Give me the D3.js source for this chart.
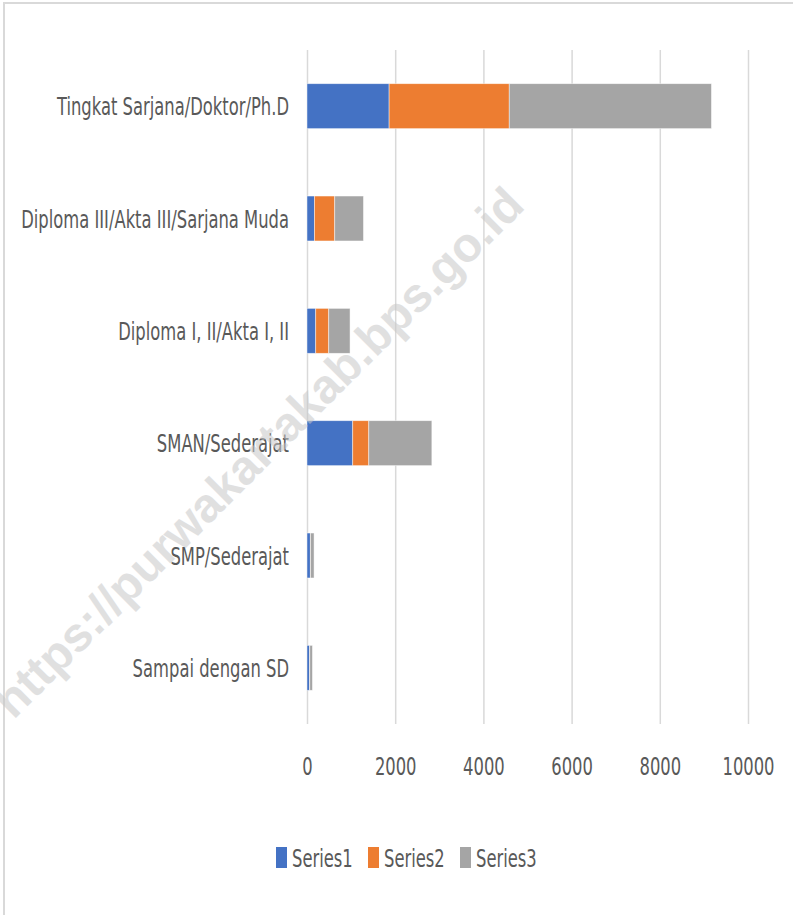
<!DOCTYPE html>
<html>
<head>
<meta charset="utf-8">
<script src="https://cdn.jsdelivr.net/npm/d3@7"></script>
<style>
  body { margin: 0; background: #fff; }
  svg text { font-family: "Liberation Sans Narrow", "DejaVu Sans Condensed", "Open Sans", sans-serif; fill: #595959; }
</style>
</head>
<body>
<div id="chart"></div>
<script>
// chart data
const categories = [
    "Tingkat Sarjana/Doktor/Ph.D",
    "Diploma III/Akta III/Sarjana Muda",
    "Diploma I, II/Akta I, II",
    "SMAN/Sederajat",
    "SMP/Sederajat",
    "Sampai dengan SD"
];
const seriesNames = ["Series1", "Series2", "Series3"];
const series1 = [1862, 168, 198, 1037, 75, 60];
const series2 = [2724, 461, 295, 364, 5, 3];
const series3 = [4585, 651, 483, 1430, 80, 60];
const xTicks = [0, 2000, 4000, 6000, 8000, 10000];
const colors = ["#4472C4", "#ED7D31", "#A5A5A5"];

function drawChart() {
    const svgWidth = 793, svgHeight = 915;
    const margin = { top: 50, right: 45, bottom: 191, left: 307 };
    const height = svgHeight - margin.top - margin.bottom;
    const fontSize = "25px";

    const svg = d3.select("#chart")
        .append("svg")
        .attr("width", svgWidth)
        .attr("height", svgHeight);

    // outer frame
    svg.append("rect")
        .attr("x", 4).attr("y", 3)
        .attr("width", svgWidth + 10).attr("height", svgHeight + 10)
        .attr("fill", "none")
        .attr("stroke", "#d9d9d9")
        .attr("stroke-width", 2);

    const g = svg.append("g")
        .attr("transform", `translate(${margin.left}, ${margin.top})`);

    const x = d3.scaleLinear().domain([0, 10000]).range([0, 441]);
    const y = d3.scaleBand()
        .domain(categories)
        .range([0, height])
        .paddingInner(0.6)
        .paddingOuter(0.3);

    // grid + tick labels
    const xAxis = g.append("g")
        .attr("class", "x-axis")
        .attr("transform", `translate(0, ${height})`)
        .call(d3.axisBottom(x).tickValues(xTicks).tickSize(-height).tickFormat(d3.format("d")));
    xAxis.select(".domain").remove();
    xAxis.selectAll("line").attr("stroke", "#d9d9d9").attr("stroke-width", 1.5);
    xAxis.selectAll("text")
        .attr("y", 51)
        .attr("dy", 0)
        .style("font-size", fontSize)
        .attr("fill", "#595959");

    // stacked data
    const table = categories.map((c, i) => ({ cat: c, Series1: series1[i], Series2: series2[i], Series3: series3[i] }));
    const stacked = d3.stack().keys(seriesNames)(table);

    g.selectAll(".layer")
        .data(stacked)
        .enter()
        .append("g")
        .attr("class", "layer")
        .attr("fill", (d, i) => colors[i])
        .selectAll("rect")
        .data(d => d)
        .enter()
        .append("rect")
        .attr("x", d => x(d[0]))
        .attr("y", d => y(d.data.cat))
        .attr("width", d => x(d[1]) - x(d[0]))
        .attr("height", y.bandwidth())
        .attr("stroke", "#ffffff")
        .attr("stroke-opacity", 0.6)
        .attr("stroke-width", 0.75);

    // category labels
    const catLabels = g.append("g").attr("class", "y-labels")
        .selectAll("text")
        .data(categories)
        .enter()
        .append("text")
        .attr("x", -18)
        .attr("y", d => y(d) + y.bandwidth() / 2 + 9)
        .attr("text-anchor", "end")
        .style("font-size", fontSize)
        .text(d => d);

    // squeeze text to the narrow look of the original
    const natural = catLabels.node().getComputedTextLength();
    const squeeze = 232 / natural;
    catLabels.each(function () {
        const w = this.getComputedTextLength();
        d3.select(this).attr("textLength", w * squeeze).attr("lengthAdjust", "spacingAndGlyphs");
    });
    xAxis.selectAll("text").each(function () {
        const w = this.getComputedTextLength();
        d3.select(this).attr("textLength", w * squeeze).attr("lengthAdjust", "spacingAndGlyphs");
    });

    // legend
    const legendX = [276, 368, 460];
    const legend = svg.append("g").attr("class", "legend");
    seriesNames.forEach((name, i) => {
        legend.append("rect")
            .attr("x", legendX[i]).attr("y", 847)
            .attr("width", 11).attr("height", 21)
            .attr("fill", colors[i]);
        const t = legend.append("text")
            .attr("x", legendX[i] + 16).attr("y", 867)
            .style("font-size", fontSize)
            .text(name);
        const w = t.node().getComputedTextLength();
        t.attr("textLength", w * squeeze).attr("lengthAdjust", "spacingAndGlyphs");
    });

    // watermark
    svg.append("text")
        .attr("transform", "translate(258, 452) rotate(-45)")
        .attr("text-anchor", "middle")
        .attr("dy", "0.35em")
        .style("font-family", "'Liberation Sans', Arial, sans-serif")
        .style("font-size", "48px")
        .style("font-weight", "bold")
        .style("fill", "#c8c8c8")
        .style("opacity", 0.55)
        .text("https://purwakartakab.bps.go.id");
}

document.addEventListener("DOMContentLoaded", drawChart);
</script>
</body>
</html>
